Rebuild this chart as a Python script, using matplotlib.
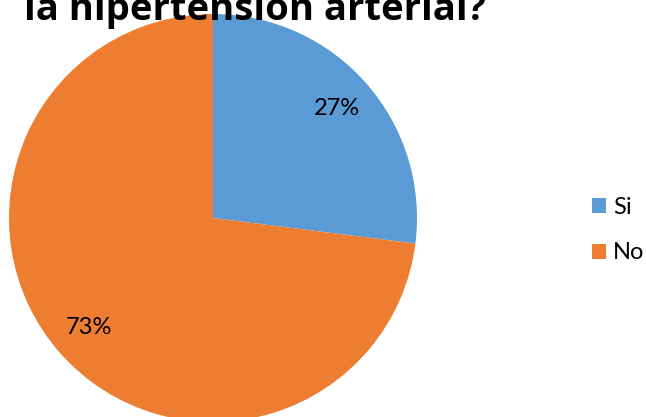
import matplotlib.pyplot as plt
from matplotlib.patches import Patch

# datos de la encuesta
categorias = ["Si", "No"]
porcentajes = [27, 73]
colores = ["#5B9BD5", "#ED7D31"]
titulo = "la hipertensión arterial?"

plt.rcParams['font.family'] = ['Lato', 'DejaVu Sans']

W, H = 646, 417
fig = plt.figure(figsize=(W / 100, H / 100), dpi=100)

# pastel: centro (213, 218) px, radio 204 px
cx, cy, r = 213, 218, 204
ax = fig.add_axes([(cx - r) / W, (H - cy - r) / H, 2 * r / W, 2 * r / H])
ax.pie(porcentajes, colors=colores, startangle=90, counterclock=False,
       autopct='%.0f%%', pctdistance=0.81, radius=1,
       textprops={'fontsize': 17, 'color': '#000000'},
       wedgeprops={'linewidth': 0})
ax.set_xlim(-1, 1)
ax.set_ylim(-1, 1)
ax.set_aspect('equal')
ax.axis('off')

# titulo (la primera linea queda fuera, arriba)
fig.text(24 / W, 1 - 20 / H, titulo, fontsize=27.5, fontweight='bold',
         family=['Open Sans', 'DejaVu Sans'], ha='left', va='baseline')

handles = [Patch(facecolor=c, edgecolor='none') for c in colores]
fig.legend(handles, categorias, loc='center left',
           bbox_to_anchor=(592 / W, 1 - 230 / H), frameon=False,
           fontsize=17, handlelength=0.6, handleheight=0.6,
           handletextpad=0.3, labelspacing=1.05, borderpad=0,
           borderaxespad=0)

fig.savefig("out.png", dpi=100)
